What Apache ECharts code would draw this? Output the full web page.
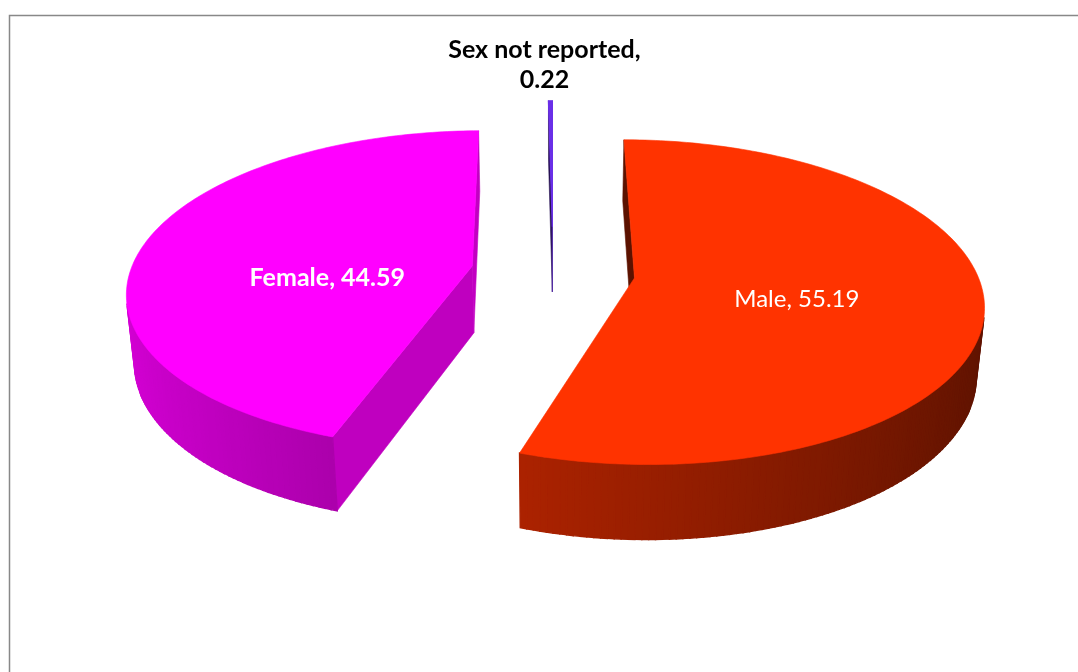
<!DOCTYPE html>
<html>
<head>
<meta charset="utf-8">
<style>
  html, body { margin: 0; padding: 0; background: #fff; }
  #chart { width: 1078px; height: 672px; }
</style>
<script src="https://cdn.jsdelivr.net/npm/echarts@6/dist/echarts.min.js"></script>
</head>
<body>
<div id="chart"></div>
<script>
const categories = ['Male', 'Female', 'Sex not reported'];
const shares = [55.19, 44.59, 0.22];

// look of each slice, kept apart from the data
const sliceColors = ['#ff3300', '#ff00ff', '#6a2fe8'];
const explode = [0.24, 0.24, 0.3];
const labelLook = [
  { r: 0.47, dx: 0, dy: 9, size: 24, weight: 'normal', color: '#fff', rim: false, wrap: false },
  { r: 0.42, dx: -6, dy: 22, size: 25, weight: 'bold', color: '#fff', rim: false, wrap: false },
  { r: 1, dx: -6, dy: -6, size: 25, weight: 'bold', color: '#000', rim: true, wrap: true }
];

// simple perspective camera looking down on the pie
const cam = { cx: 553, cy: 339, f: 2015, dist: 6, tilt: 29.2 * Math.PI / 180, thick: 0.225 };

const total = shares.reduce((a, b) => a + b, 0);
const starts = [];
let acc = 0;
shares.forEach((v) => { starts.push(acc / total * 360); acc += v; });

function project(x, y, z) {
  const s = Math.sin(cam.tilt), c = Math.cos(cam.tilt);
  const v = y * c - z * s;
  const d = cam.dist - (y * s + z * c);
  return [cam.cx + cam.f * x / d, cam.cy - cam.f * v / d];
}

function shade(hex, k) {
  const n = parseInt(hex.slice(1), 16);
  const ch = [(n >> 16) & 255, (n >> 8) & 255, n & 255].map((c) => Math.round(Math.min(255, c * k)));
  return 'rgb(' + ch.join(',') + ')';
}

function area(pts) {
  let s = 0;
  for (let i = 0; i < pts.length; i++) {
    const p = pts[i], q = pts[(i + 1) % pts.length];
    s += p[0] * q[1] - q[0] * p[1];
  }
  return s;
}

function poly(points, color, lw) {
  return { type: 'polygon', shape: { points }, style: { fill: color, stroke: color, lineWidth: lw || 0.6 } };
}

function renderItem(params, api) {
  const i = params.dataIndex;
  const a0 = starts[i];
  const a1 = a0 + api.value(0) / total * 360;
  const mid = (a0 + a1) / 2 * Math.PI / 180;
  const ox = explode[i] * Math.sin(mid), oz = -explode[i] * Math.cos(mid);
  const h = cam.thick;
  const base = sliceColors[i];
  const rim = (deg, y, r) => {
    const t = deg * Math.PI / 180;
    const rr = r == null ? 1 : r;
    return project(ox + rr * Math.sin(t), y, oz - rr * Math.cos(t));
  };
  const apex = (y) => project(ox, y, oz);
  const sides = [];

  // radial faces
  const startFace = [apex(h), rim(a0, h), rim(a0, 0), apex(0)];
  if (area(startFace) < 0) {
    const n = (a0 - 90) * Math.PI / 180;
    sides.push(poly(startFace, shade(base, 0.56 + 0.2 * Math.sin(n))));
  }
  const endFace = [rim(a1, h), apex(h), apex(0), rim(a1, 0)];
  if (area(endFace) < 0) {
    const n = (a1 + 90) * Math.PI / 180;
    sides.push(poly(endFace, shade(base, 0.56 + 0.2 * Math.sin(n))));
  }

  // outer wall, in thin strips so the shading can follow the curve
  const steps = Math.max(2, Math.ceil(a1 - a0));
  for (let k = 0; k < steps; k++) {
    const t0 = a0 + (a1 - a0) * k / steps;
    const t1 = a0 + (a1 - a0) * (k + 1) / steps;
    const pts = [rim(t0, h), rim(t1, h), rim(t1, 0), rim(t0, 0)];
    if (area(pts) < 0) {
      const tm = (t0 + t1) / 2 * Math.PI / 180;
      sides.push(poly(pts, shade(base, 0.6 - 0.23 * Math.sin(tm)), 1.4));
    }
  }

  // top face
  const top = [apex(h)];
  for (let k = 0; k <= steps; k++) top.push(rim(a0 + (a1 - a0) * k / steps, h));
  const children = sides.concat([poly(top, base, i === 2 ? 1.2 : 0.6)]);

  // label
  const lk = labelLook[i];
  const p = lk.rim ? rim((a0 + a1) / 2, h) : rim((a0 + a1) / 2, h, lk.r);
  const value = api.value(0).toFixed(2);
  children.push({
    type: 'text',
    z2: 20,
    style: {
      text: categories[i] + ',' + (lk.wrap ? '\n' : ' ') + value,
      x: p[0] + lk.dx,
      y: p[1] + lk.dy,
      fill: lk.color,
      fontFamily: 'Lato',
      fontSize: lk.size,
      fontWeight: lk.weight,
      lineHeight: 30,
      align: 'center',
      verticalAlign: lk.rim ? 'bottom' : 'middle'
    }
  });
  return { type: 'group', children };
}

const chart = echarts.init(document.getElementById('chart'));
chart.setOption({
  animation: false,
  backgroundColor: '#fff',
  graphic: [{
    type: 'rect',
    silent: true,
    z: -1,
    shape: { x: 9.5, y: 15.5, width: 1200, height: 800 },
    style: { fill: 'none', stroke: '#888', lineWidth: 1.5 }
  }],
  series: [{
    type: 'custom',
    coordinateSystem: 'none',
    renderItem,
    data: shares.map((v, i) => ({ name: categories[i], value: v }))
  }]
});
</script>
</body>
</html>
